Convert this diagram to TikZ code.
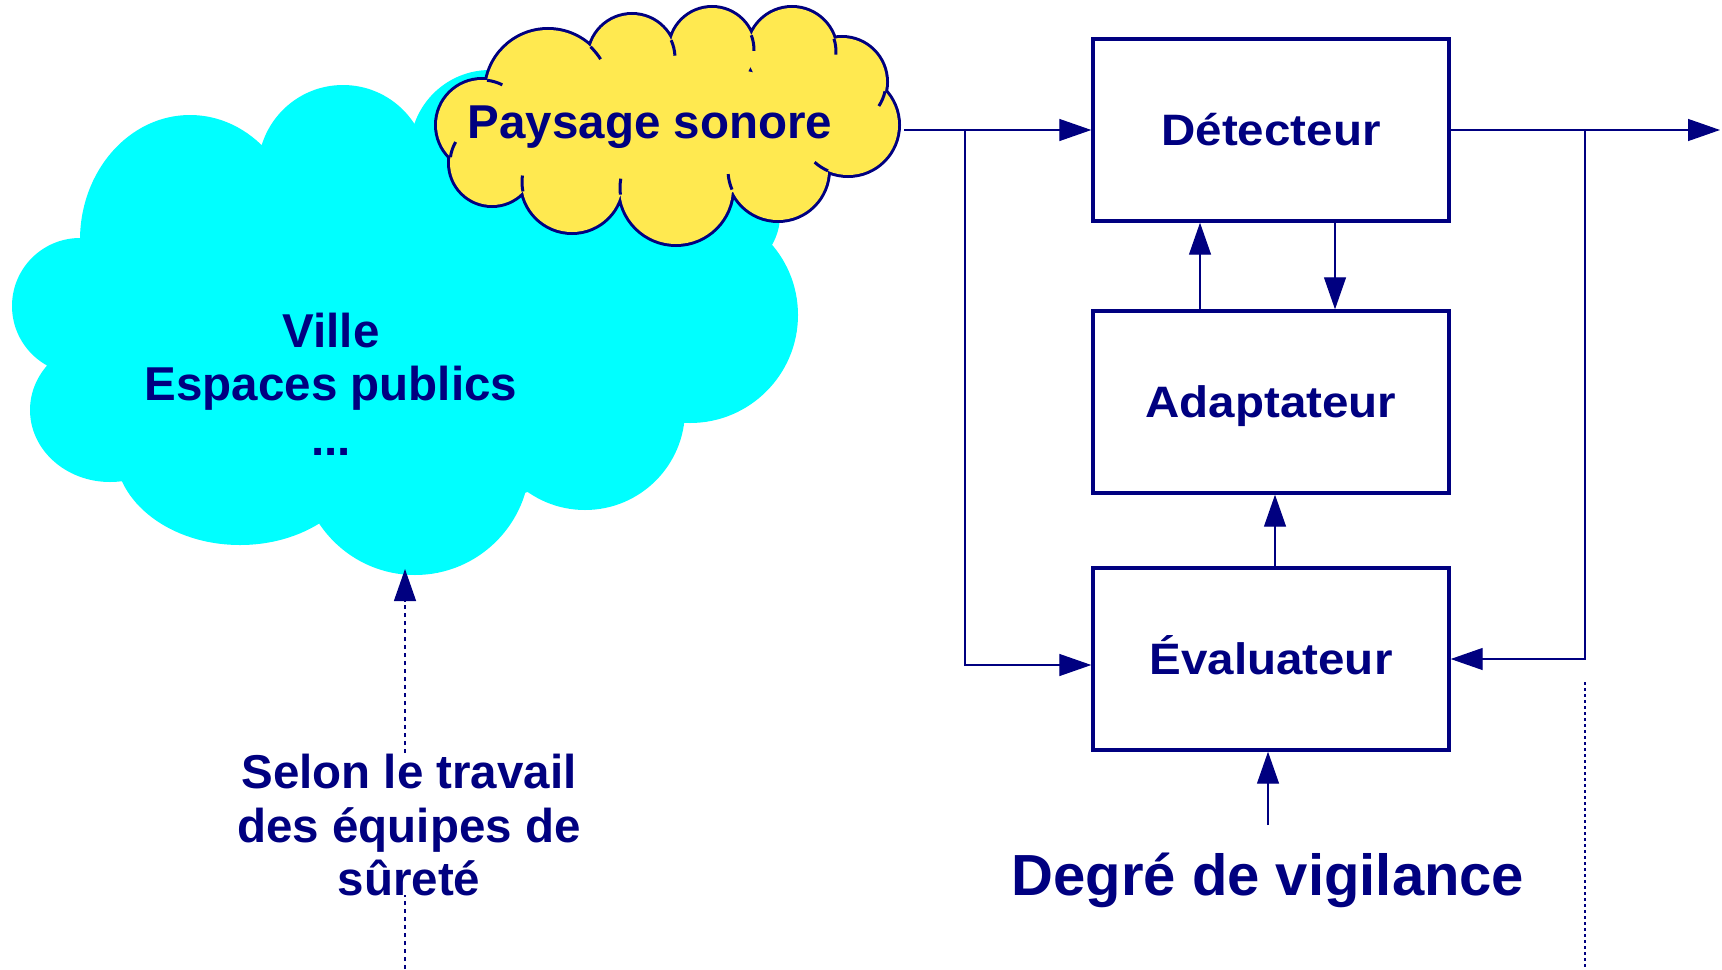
\documentclass[tikz,border=0pt]{standalone}
\usepackage{fontspec}
\setmainfont{Liberation Sans}
\newfontfamily\widefam{Liberation Sans}[FakeStretch=1.08]
\usetikzlibrary{arrows.meta,calc}
\definecolor{navy}{RGB}{0,0,128}
\definecolor{cloudcyan}{RGB}{0,255,255}
\definecolor{cloudyellow}{RGB}{255,233,80}
\newcommand\boxfont{\widefam\bfseries\fontsize{22pt}{26pt}\selectfont}
\newcommand\cloudfont{\bfseries\fontsize{23.75pt}{28pt}\selectfont}
\newcommand\cloudhook[6]{%
  \pgfmathsetmacro\hkdx{#4-#1}%
  \pgfmathsetmacro\hkdy{#5-#2}%
  \pgfmathsetmacro\hkd{veclen(\hkdx,\hkdy)}%
  \pgfmathsetmacro\hka{(#3-#6)*(#3+#6)/(2*\hkd)+\hkd/2}%
  \pgfmathsetmacro\hkphi{atan2(\hkdy,\hkdx)}%
  \pgfmathsetmacro\hkth{\hkphi-acos(\hka/#3)}%
  \pgfmathsetmacro\hkend{\hkth+16/#3*57.3}%
  \draw[cloudline] ($(#1,#2)+(\hkth:#3)$) arc[start angle=\hkth, end angle=\hkend, radius=#3];%
}
\begin{document}
\begin{tikzpicture}[x=0.5pt,y=-0.5pt,
  navyline/.style={draw=navy,line width=0.65pt},
  arr/.style={navyline,-{Triangle[length=16pt,width=11pt]}},
  box/.style={draw=navy,line width=1.7pt,minimum width=178pt,minimum height=91pt,inner sep=0pt,text=navy,font=\boxfont,text height=15.75pt,text depth=0pt},
  cloudline/.style={draw=navy,line width=1.5pt},
  lbl/.style={text=navy,inner sep=0pt,anchor=base,font=\cloudfont}
]
\useasboundingbox[fill=white] (0,0) rectangle (1722,969);

% cyan cloud
\fill[cloudcyan]
  (400,320) ellipse[x radius=300,y radius=190]
  (343,170) circle[radius=85]
  (190,240) ellipse[x radius=110,y radius=125]
  (80,306) circle[radius=68]
  (110,410) ellipse[x radius=80,y radius=72]
  (240,450) ellipse[x radius=125,y radius=95]
  (415,460) circle[radius=115]
  (585,410) circle[radius=100]
  (690,315) circle[radius=108]
  (720,215) circle[radius=60]
  (490,150) circle[radius=80];

% yellow cloud: outline by union trick
\path[draw=navy,line width=3pt]
  (665,130) ellipse[x radius=165,y radius=68]
  (482,125) circle[radius=45]
  (548,92) circle[radius=62]
  (632,58) circle[radius=43]
  (712,50) circle[radius=42]
  (792,52) circle[radius=44]
  (842,82) circle[radius=44]
  (848,125) circle[radius=50]
  (778,170) circle[radius=50]
  (676,188) circle[radius=56]
  (572,182) circle[radius=50]
  (492,163) circle[radius=42];
\fill[cloudyellow]
  (665,130) ellipse[x radius=165,y radius=68]
  (482,125) circle[radius=45]
  (548,92) circle[radius=62]
  (632,58) circle[radius=43]
  (712,50) circle[radius=42]
  (792,52) circle[radius=44]
  (842,82) circle[radius=44]
  (848,125) circle[radius=50]
  (778,170) circle[radius=50]
  (676,188) circle[radius=56]
  (572,182) circle[radius=50]
  (492,163) circle[radius=42];
\cloudhook{482}{125}{45}{548}{92}{62}
\cloudhook{548}{92}{62}{632}{58}{43}
\cloudhook{632}{58}{43}{712}{50}{42}
\cloudhook{712}{50}{42}{792}{52}{44}
\cloudhook{792}{52}{44}{842}{82}{44}
\cloudhook{842}{82}{44}{848}{125}{50}
\cloudhook{848}{125}{50}{778}{170}{50}
\cloudhook{778}{170}{50}{676}{188}{56}
\cloudhook{676}{188}{56}{572}{182}{50}
\cloudhook{572}{182}{50}{492}{163}{42}
\cloudhook{492}{163}{42}{482}{125}{45}

% cloud texts
\node[lbl] (paysage) at (650,138) {Paysage sonore};
\node[lbl] (ville) at (331,347) {Ville};
\node[lbl] (espaces) at (331,400) {Espaces publics};
\node[lbl] (dots) at (331,455) {...};

% boxes
\node[box] (det) at (1271,130) {Détecteur};
\node[box] (adapt) at (1271,402) {Adaptateur};
\node[box] (eval) at (1271,659) {Évaluateur};

% coordinates
\coordinate (inS) at (904,130);
\coordinate (jL) at (965,130);
\coordinate (jL2) at (965,665);
\coordinate (outE) at (1720,130);
\coordinate (jR) at (1585,130);
\coordinate (jR2) at (1585,659);
\coordinate (dotA) at (1585,682);
\coordinate (dotB) at (1585,969);
\coordinate (xUp) at (1200,0);
\coordinate (xDown) at (1335,0);
\coordinate (xE) at (1275,0);
\coordinate (dgTop) at (1268,825);
\coordinate (cloudTip) at (405,569);
\coordinate (selBot) at (405,969);

% connectors
\draw[arr] (inS) -- (det.west);
\draw[arr] (jL) -- (jL2) -- (jL2 -| eval.west);
\draw[arr] (det.east) -- (outE);
\draw[arr] (jR) -- (jR2) -- (jR2 -| eval.east);
\draw[navyline,dash pattern=on 1.5pt off 1.5pt] (dotA) -- (dotB);
\draw[arr] (adapt.north -| xUp) -- (det.south -| xUp);
\draw[arr] (det.south -| xDown) -- (adapt.north -| xDown);
\draw[arr] (eval.north -| xE) -- (adapt.south -| xE);
\draw[arr] (dgTop) -- (eval.south -| dgTop);

% bottom texts
\node[lbl,font=\bfseries\fontsize{29pt}{34pt}\selectfont] (degre) at (1268,895) {Degré de vigilance};
\node[lbl] (selon1) at (409,788) {Selon le travail};
\node[lbl] (selon2) at (409,842) {des équipes de};
\node[lbl] (selon3) at (409,895) {sûreté};
\draw[arr,dash pattern=on 2pt off 2pt] (selon1.north -| cloudTip) -- (cloudTip);
\draw[navyline,dash pattern=on 2pt off 2pt] (selBot) -- (selon3.base -| selBot);
\end{tikzpicture}
\end{document}
